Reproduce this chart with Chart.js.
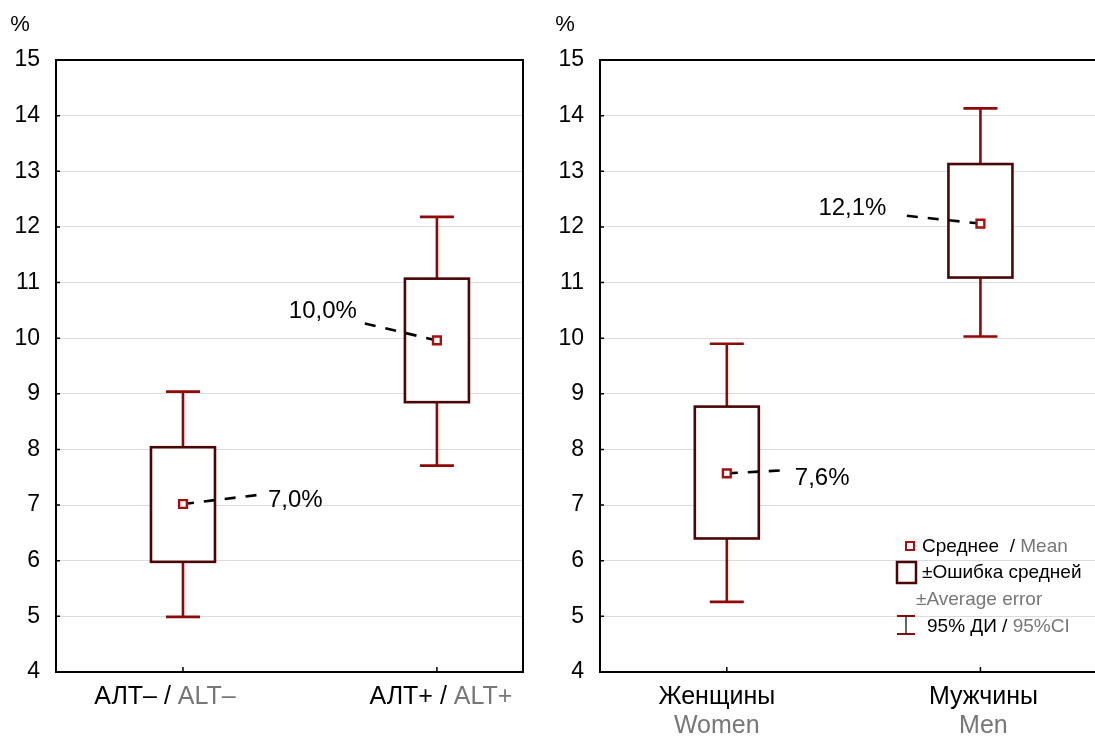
<!DOCTYPE html>
<html><head><meta charset="utf-8">
<script src="https://cdn.jsdelivr.net/npm/chart.js@4/dist/chart.umd.min.js"></script>
<style>
html,body{margin:0;padding:0;background:#fff;}
body{width:1095px;height:736px;overflow:hidden;position:relative;}
canvas{position:absolute;top:0;}
#c1{left:0;}
#c2{left:545px;}
</style></head>
<body>
<canvas id="c1" width="545" height="736"></canvas>
<canvas id="c2" width="560" height="736"></canvas>
<script>
// ---- data ----
const yTickMin = 4, yTickMax = 15;
const leftCatsRu = ['АЛТ–', 'АЛТ+'];
const leftCatsEn = ['ALT–', 'ALT+'];
const leftMean = [7.02, 9.96];
const leftSeLow = [5.98, 8.85];
const leftSeHigh = [8.04, 11.07];
const leftCiLow = [4.99, 7.71];
const leftCiHigh = [9.04, 12.18];

const rightCatsRu = ['Женщины', 'Мужчины'];
const rightCatsEn = ['Women', 'Men'];
const rightMean = [7.57, 12.06];
const rightSeLow = [6.40, 11.09];
const rightSeHigh = [8.77, 13.13];
const rightCiLow = [5.26, 10.03];
const rightCiHigh = [9.90, 14.13];

// ---- styles ----
const FONT = '"Liberation Sans", Arial, sans-serif';
const WHISK = '#8e0a0a';
const BOXC = '#4a0606';
const MEANC = '#a81010';
const GRAY = '#777777';

function fmt(v){ return v.toFixed(1).replace('.', ',') + '%'; }

function drawRich(ctx, parts, x, y, align){
  let total = 0;
  parts.forEach(p => total += ctx.measureText(p[0]).width);
  let sx = align === 'center' ? x - total/2 : (align === 'right' ? x - total : x);
  ctx.textAlign = 'left';
  parts.forEach(p => { ctx.fillStyle = p[1]; ctx.fillText(p[0], sx, y); sx += ctx.measureText(p[0]).width; });
}

function makePlugin(cfg){
  return {
    id: 'boxes',
    beforeDatasetsDraw(chart){
      const ctx = chart.ctx, xs = chart.scales.x, ys = chart.scales.y;
      ctx.save();
      cfg.mean.forEach((m, i) => {
        const x = xs.getPixelForValue(i + 1);
        const cHi = ys.getPixelForValue(cfg.ciHigh[i]);
        const cLo = ys.getPixelForValue(cfg.ciLow[i]);
        const bHi = ys.getPixelForValue(cfg.seHigh[i]);
        const bLo = ys.getPixelForValue(cfg.seLow[i]);
        ctx.setLineDash([]);
        ctx.strokeStyle = WHISK; ctx.lineWidth = 2.6;
        ctx.beginPath();
        ctx.moveTo(x, cHi); ctx.lineTo(x, bHi);
        ctx.moveTo(x, bLo); ctx.lineTo(x, cLo);
        ctx.moveTo(x - 17, cHi); ctx.lineTo(x + 17, cHi);
        ctx.moveTo(x - 17, cLo); ctx.lineTo(x + 17, cLo);
        ctx.stroke();
        ctx.fillStyle = '#fff';
        ctx.fillRect(x - 32, bHi, 64, bLo - bHi);
        ctx.strokeStyle = BOXC; ctx.lineWidth = 2.6;
        ctx.strokeRect(x - 32, bHi, 64, bLo - bHi);
        const ym = ys.getPixelForValue(m);
        const o = cfg.leader[i];
        ctx.strokeStyle = '#000'; ctx.lineWidth = 2.6;
        ctx.setLineDash([11, 10]);
        ctx.beginPath(); ctx.moveTo(x, ym); ctx.lineTo(x + o.dx, ym + o.dy); ctx.stroke();
        ctx.setLineDash([]);
        ctx.fillStyle = '#000';
        ctx.font = '24px ' + FONT;
        ctx.textAlign = o.align; ctx.textBaseline = 'middle';
        ctx.fillText(fmt(m), x + o.tx, ym + o.ty);
      });
      ctx.restore();
    },
    afterDraw(chart){
      const ctx = chart.ctx, xs = chart.scales.x, ys = chart.scales.y, a = chart.chartArea;
      ctx.save();
      ctx.strokeStyle = '#000'; ctx.lineWidth = 2;
      ctx.strokeRect(a.left, a.top, a.right - a.left, a.bottom - a.top);
      ctx.beginPath();
      for (let v = yTickMin; v <= yTickMax; v++) {
        const y = ys.getPixelForValue(v);
        ctx.moveTo(a.left, y); ctx.lineTo(a.left + 4, y);
      }
      cfg.mean.forEach((m, i) => {
        const x = xs.getPixelForValue(i + 1);
        ctx.moveTo(x, a.bottom); ctx.lineTo(x, a.bottom - 5);
      });
      ctx.lineWidth = 1.5; ctx.stroke();
      ctx.fillStyle = '#000'; ctx.font = '22px ' + FONT;
      ctx.textAlign = 'center'; ctx.textBaseline = 'middle';
      ctx.fillText('%', cfg.pctX, 25);
      ctx.font = '25px ' + FONT;
      cfg.ru.forEach((t, i) => {
        const x = xs.getPixelForValue(i + 1) + cfg.labOff[i];
        if (cfg.twoLine) {
          drawRich(ctx, [[t, '#000']], x, 697, 'center');
          drawRich(ctx, [[cfg.en[i], GRAY]], x, 726, 'center');
        } else {
          drawRich(ctx, [[t + ' / ', '#000'], [cfg.en[i], GRAY]], x, 697, 'center');
        }
      });
      if (cfg.legend) {
        const L = cfg.legend;
        ctx.font = '19px ' + FONT; ctx.textBaseline = 'middle';
        ctx.strokeStyle = MEANC; ctx.lineWidth = 2; ctx.fillStyle = '#fff';
        ctx.fillRect(L.x + 5, 542, 8, 8); ctx.strokeRect(L.x + 5, 542, 8, 8);
        drawRich(ctx, [['Среднее  / ', '#000'], ['Mean', GRAY]], L.x + 21, 547, 'left');
        ctx.strokeStyle = BOXC; ctx.lineWidth = 2.5;
        ctx.strokeRect(L.x - 4, 562, 19, 21);
        drawRich(ctx, [['±Ошибка средней', '#000']], L.x + 21, 573, 'left');
        drawRich(ctx, [['±Average error', GRAY]], L.x + 15, 600, 'left');
        ctx.strokeStyle = WHISK; ctx.lineWidth = 2;
        ctx.beginPath();
        ctx.moveTo(L.x - 4, 616); ctx.lineTo(L.x + 14, 616);
        ctx.moveTo(L.x - 4, 634); ctx.lineTo(L.x + 14, 634);
        ctx.stroke();
        ctx.strokeStyle = '#000'; ctx.lineWidth = 1.2;
        ctx.beginPath(); ctx.moveTo(L.x + 5, 616); ctx.lineTo(L.x + 5, 634); ctx.stroke();
        drawRich(ctx, [['95% ДИ / ', '#000'], ['95%CI', GRAY]], L.x + 26, 627, 'left');
      }
      ctx.restore();
    }
  };
}

function makeChart(id, cfg){
  return new Chart(document.getElementById(id), {
    type: 'scatter',
    data: { datasets: [{
      data: cfg.mean.map((m, i) => ({ x: i + 1, y: m })),
      pointStyle: 'rect', pointRadius: 5.5, pointHoverRadius: 5.5,
      borderColor: MEANC, backgroundColor: '#fff', borderWidth: 2.4
    }] },
    options: {
      responsive: false, animation: false,
      layout: { padding: { left: 0, right: cfg.padRight, top: 60, bottom: 0 } },
      plugins: { legend: { display: false }, tooltip: { enabled: false } },
      scales: {
        x: { type: 'linear', min: 0.5, max: cfg.xMax,
             ticks: { display: false }, grid: { display: false }, border: { display: false },
             afterFit(s){ s.height = 64; } },
        y: { type: 'linear', min: yTickMin, max: yTickMax,
             ticks: { stepSize: 1, padding: cfg.tickPad, color: '#000', font: { family: FONT, size: 23 } },
             grid: { color: '#dcdcdc', lineWidth: 1, drawTicks: false }, border: { display: false },
             afterFit(s){ s.width = cfg.yWidth; } }
      }
    },
    plugins: [makePlugin(cfg)]
  });
}

makeChart('c1', {
  mean: leftMean, seLow: leftSeLow, seHigh: leftSeHigh, ciLow: leftCiLow, ciHigh: leftCiHigh,
  ru: leftCatsRu, en: leftCatsEn, twoLine: false, labOff: [-18, 4],
  xMax: 2.339, padRight: 22, yWidth: 56, tickPad: 16, pctX: 20,
  leader: [ { dx: 75, dy: -9, tx: 85, ty: -4, align: 'left' },
            { dx: -77, dy: -18, tx: -80, ty: -29, align: 'right' } ]
});
makeChart('c2', {
  mean: rightMean, seLow: rightSeLow, seHigh: rightSeHigh, ciLow: rightCiLow, ciHigh: rightCiHigh,
  ru: rightCatsRu, en: rightCatsEn, twoLine: true, labOff: [-10, 3],
  xMax: 2.46, padRight: 7, yWidth: 55, tickPad: 16, pctX: 20,
  legend: { x: 356 },
  leader: [ { dx: 55, dy: -3, tx: 68, ty: 5, align: 'left' },
            { dx: -76, dy: -8, tx: -94, ty: -15, align: 'right' } ]
});
</script>
</body></html>
